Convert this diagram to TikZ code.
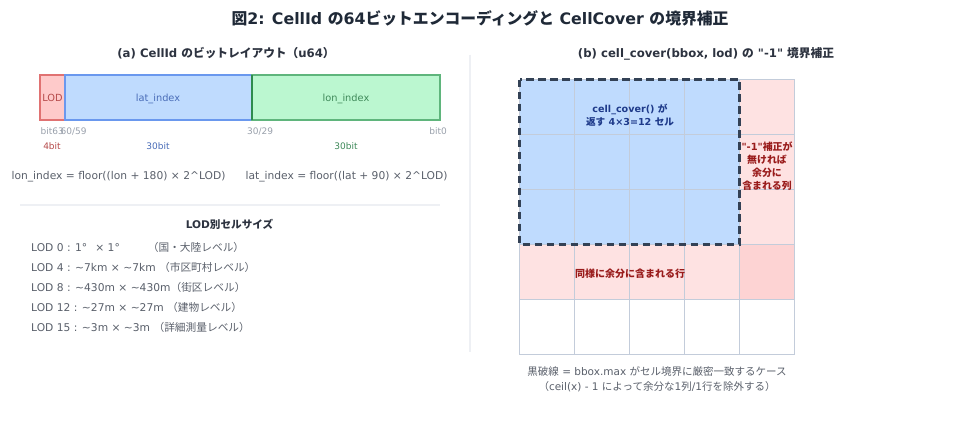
\documentclass[tikz,border=0pt]{standalone}
\usepackage{fontspec}
\setmainfont{DejaVu Sans}
\newfontfamily\jp{Noto Sans CJK JP}
\newfontfamily\qf{DejaVu Sans}
\newcommand\dq{{\qf"}}
\newcommand\fsz[1]{\fontsize{#1}{#1}\selectfont}
\definecolor{ttl}{HTML}{1F2937}
\definecolor{sub}{HTML}{2D3340}
\definecolor{body}{HTML}{5A606B}
\definecolor{lgray}{HTML}{9AA1AC}
\definecolor{lodfill}{HTML}{FECACA}
\definecolor{lodline}{HTML}{E07272}
\definecolor{lodtxt}{HTML}{B54A4A}
\definecolor{latfill}{HTML}{BFDBFE}
\definecolor{latline}{HTML}{6A98EE}
\definecolor{lattxt}{HTML}{4A6DB8}
\definecolor{lonfill}{HTML}{BBF7D0}
\definecolor{lonline}{HTML}{5FB57C}
\definecolor{lonedge}{HTML}{2E8B4E}
\definecolor{lontxt}{HTML}{3F8A5A}
\definecolor{divider}{HTML}{EEF0F4}
\definecolor{gridc}{HTML}{C3CCDA}
\definecolor{pinkfill}{HTML}{FEE2E2}
\definecolor{pinkdeep}{HTML}{FDD3D3}
\definecolor{dashc}{HTML}{334155}
\definecolor{bluetxt}{HTML}{1E3A8A}
\definecolor{redtxt}{HTML}{991B1B}
\begin{document}
\begin{tikzpicture}[x=1pt,y=-1pt,
  txt/.style={inner sep=0pt, anchor=base},
  bitbox/.style={line width=1.2pt},
]
\useasboundingbox (0,0) rectangle (960,420);
\fill[white] (0,0) rectangle (960,420);

% title
\node[txt, text=ttl, font=\fsz{15.8}\bfseries] (title) at (480,25) {{\jp 図}2: CellId {\jp の}64{\jp ビットエンコーディングと} CellCover {\jp の境界補正}};

% dividers
\draw[divider, line width=1.6pt] (470,55) -- (470,352);
\draw[divider, line width=1.6pt] (20,205) -- (440,205);

% (a)
\node[txt, text=sub, font=\fsz{11.7}\bfseries] (suba) at (226,57.3) {(a) CellId {\jp のビットレイアウト（}u64{\jp ）}};

\fill[lodfill] (40,75) rectangle (65,120);
\fill[latfill] (65,75) rectangle (252,120);
\fill[lonfill] (252,75) rectangle (440,120);
\draw[bitbox, lodline] (40,75) rectangle (65,120);
\draw[bitbox, latline] (65,75) rectangle (252,120);
\draw[bitbox, lonline] (252,75) rectangle (440,120);
\draw[bitbox, lonedge] (252,75) -- (252,120);
\node[txt, text=lodtxt, font=\fsz{9.8}] (lod) at (52.5,101.6) {LOD};
\node[txt, text=lattxt, font=\fsz{9.8}] (lat) at (158,101.6) {lat\_index};
\node[txt, text=lontxt, font=\fsz{9.8}] (lon) at (346,101.6) {lon\_index};

\node[txt, anchor=base west, text=lgray, font=\fsz{9}] (b63) at (40.5,134.5) {bit63};
\node[txt, anchor=base west, text=lgray, font=\fsz{9}] (b60) at (60.5,134.5) {60/59};
\node[txt, anchor=base west, text=lgray, font=\fsz{9}] (b30) at (247,134.5) {30/29};
\node[txt, anchor=base east, text=lgray, font=\fsz{9}] (b0) at (447,134.5) {bit0};

\node[txt, text=lodtxt, font=\fsz{9}] (w4) at (52,149.5) {4bit};
\node[txt, text=lattxt, font=\fsz{9}] (w30a) at (158,149.5) {30bit};
\node[txt, text=lontxt, font=\fsz{9}] (w30b) at (346,149.5) {30bit};

\node[txt, text=body, font=\fsz{10.7}] (flon) at (118.5,179) {lon\_index = floor((lon + 180) × 2\textasciicircum LOD)};
\node[txt, text=body, font=\fsz{10.7}] (flat) at (346.5,179) {lat\_index = floor((lat + 90) × 2\textasciicircum LOD)};

\node[txt, text=sub, font=\fsz{10.6}\bfseries] (lodh) at (229.5,228) {LOD{\jp 別セルサイズ}};
\node[txt, anchor=base west, text=body, font=\fsz{10.7}] (l0) at (31,251) {LOD 0 : 1°\hspace{8pt}× 1°\hspace{28pt}{\jp （国・大陸レベル）}};
\node[txt, anchor=base west, text=body, font=\fsz{10.7}] (l4) at (31,271) {LOD 4 : \textasciitilde 7km × \textasciitilde 7km {\jp （市区町村レベル）}};
\node[txt, anchor=base west, text=body, font=\fsz{10.7}] (l8) at (31,291) {LOD 8 : \textasciitilde 430m × \textasciitilde 430m{\jp （街区レベル）}};
\node[txt, anchor=base west, text=body, font=\fsz{10.7}] (l12) at (31,311) {LOD 12 : \textasciitilde 27m × \textasciitilde 27m {\jp （建物レベル）}};
\node[txt, anchor=base west, text=body, font=\fsz{10.7}] (l15) at (31,331) {LOD 15 : \textasciitilde 3m × \textasciitilde 3m {\jp （詳細測量レベル）}};

% (b)
\node[txt, text=sub, font=\fsz{11.7}\bfseries] (subb) at (706,57.3) {(b) cell\_cover(bbox, lod) {\jp の} \dq-1\dq{} {\jp 境界補正}};

\fill[latfill] (519.5,79.5) rectangle (739.5,244.5);
\fill[pinkfill] (739.5,79.5) rectangle (794.5,244.5);
\fill[pinkfill] (519.5,244.5) rectangle (739.5,299.5);
\fill[pinkdeep] (739.5,244.5) rectangle (794.5,299.5);
\foreach \i in {0,...,5} {
  \draw[gridc, line width=1.6pt] (519.5+55*\i,79.5) -- (519.5+55*\i,354.5);
  \draw[gridc, line width=1.6pt] (519.5,79.5+55*\i) -- (794.5,79.5+55*\i);
}
\draw[dashc, line width=2.6pt, dash pattern=on 7.5pt off 4.5pt] (519.5,79.5) rectangle (739.5,244.5);

\node[inner sep=0pt, align=center, text=bluetxt, font=\fsz{9.6}\bfseries] (ccv) at (630,115) {cell\_cover() {\jp が}\\[2.2pt]{\jp 返す} 4×3=12 {\jp セル}};
\node[inner sep=0pt, align=center, text=redtxt, font=\fsz{9.9}\bfseries] (corr) at (767,166) {\dq-1\dq{\jp 補正が}\\[3.3pt]{\jp 無ければ}\\[3.3pt]{\jp 余分に}\\[3.3pt]{\jp 含まれる列}};
\node[txt, text=redtxt, font=\fsz{10}\bfseries\jp] (rowt) at (630,277.5) {同様に余分に含まれる行};

\node[txt, text=body, font=\fsz{10.5}] (cap1) at (657,375) {{\jp 黒破線} = bbox.max {\jp がセル境界に厳密一致するケース}};
\node[txt, text=body, font=\fsz{10.5}] (cap2) at (657,390.6) {{\jp （}ceil(x) - 1 {\jp によって余分な}1{\jp 列}/1{\jp 行を除外する）}};
\end{tikzpicture}
\end{document}
